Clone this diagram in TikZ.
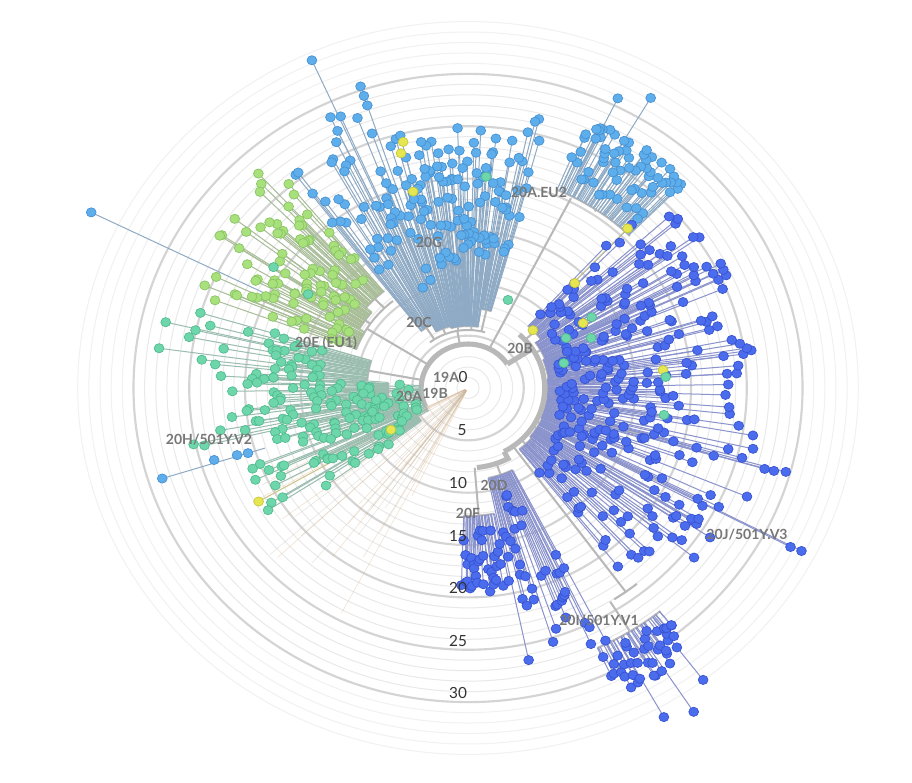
\documentclass[tikz,border=0pt]{standalone}
\usepackage{fontspec}
\setmainfont{Lato}
\definecolor{clbfill}{HTML}{5EAEEB}
\definecolor{clbedge}{HTML}{4690D2}
\definecolor{clbline}{HTML}{8FAAC4}
\definecolor{cdbfill}{HTML}{4B6CEC}
\definecolor{cdbedge}{HTML}{3652D2}
\definecolor{cdbline}{HTML}{8A93CC}
\definecolor{cgrfill}{HTML}{A8E07C}
\definecolor{cgredge}{HTML}{88C462}
\definecolor{cgrline}{HTML}{A8BD98}
\definecolor{cmtfill}{HTML}{6ED6AB}
\definecolor{cmtedge}{HTML}{50BA8D}
\definecolor{cmtline}{HTML}{9BBDB0}
\definecolor{cyefill}{HTML}{E6E650}
\definecolor{cyeedge}{HTML}{C6C63A}
\definecolor{cyeline}{HTML}{C8C488}
\definecolor{cgbr}{HTML}{B8B8B8}
\definecolor{cgridthin}{HTML}{E9E9E9}
\definecolor{cgridfaint}{HTML}{F1F1F1}
\definecolor{cgridthick}{HTML}{D4D4D4}
\definecolor{clabgrey}{HTML}{777777}
\definecolor{caxis}{HTML}{333333}
\definecolor{corl}{HTML}{D9A878}
\definecolor{cogr}{HTML}{C8C0B0}
\tikzset{
  tiplb/.style={fill=clbfill, draw=clbedge, line width=0.5pt},
  tipdb/.style={fill=cdbfill, draw=cdbedge, line width=0.5pt},
  tipgr/.style={fill=cgrfill, draw=cgredge, line width=0.5pt},
  tipmt/.style={fill=cmtfill, draw=cmtedge, line width=0.5pt},
  tipye/.style={fill=cyefill, draw=cyeedge, line width=0.5pt},
  lnlb/.style={draw=clbline, line width=0.75pt},
  lndb/.style={draw=cdbline, line width=0.75pt},
  lngr/.style={draw=cgrline, line width=0.75pt},
  lnmt/.style={draw=cmtline, line width=0.75pt},
  lnye/.style={draw=cyeline, line width=0.75pt},
  gbranch/.style={draw=cgbr, line width=1.5pt},
  groot/.style={draw=cgbr, line width=3.8pt},
  cladelab/.style={text=clabgrey, font=\fontsize{10.5}{12}\selectfont\bfseries, inner sep=0pt},
  axislab/.style={text=caxis, font=\fontsize{11.5}{13}\selectfont, inner sep=0pt},
}
\newif\ifdotpass
% #1 amin #2 amax #3 rparent #4 rbase #5 rmin #6 rmax #7 n #8 key #9 exponent
\newcommand{\clade}[9]{%
  \pgfmathsetmacro{\am}{(#1+#2)/2}%
  \ifdotpass\else
    \draw[gbranch] (\am:#3) -- (\am:#4);
    \draw[gbranch] (#1:#4) arc[start angle=#1, end angle=#2, radius=#4];
  \fi
  \foreach \i in {1,...,#7}{%
    \pgfmathsetmacro{\aa}{#1+(#2-#1)*(\i-0.5)/#7+0.4*rand}%
    \pgfmathsetmacro{\rr}{#5+(#6-#5)*(rnd^#9)}%
    \ifdotpass
      \path[tip#8] (\aa:\rr) circle[radius=4.6];
    \else
      \draw[ln#8] (\aa:#4) -- (\aa:\rr);
    \fi
  }%
}
\newcommand{\tipline}[4]{%
  \ifdotpass \path[tip#4] (#1:#3) circle[radius=4.6];
  \else \draw[ln#4] (#1:#2) -- (#1:#3); \fi}
\newcommand{\dotat}[3]{%
  \ifdotpass \path[tip#3] (#1:#2) circle[radius=4.6]; \fi}
\newcommand{\gline}[3]{\ifdotpass\else\draw[gbranch] (#1:#2) -- (#1:#3);\fi}
\newcommand{\garc}[3]{\ifdotpass\else\draw[gbranch] (#1:#3) arc[start angle=#1, end angle=#2, radius=#3];\fi}

\newcommand{\alltree}{%
  % internal structure
  \gline{100}{44}{58}\garc{74}{128}{58}
  \gline{63}{44}{213}
  \gline{148}{44}{112}\garc{129}{160}{112}
  \gline{-54}{72}{252}\garc{-57}{-51}{252}\gline{-58}{252}{285}
  \gline{-16}{72}{180}\gline{-27.6}{72}{200}
  % top light blue (20C / 20G)
  \clade{118}{128}{58}{72}{140}{270}{18}{lb}{1}
  \clade{105}{118}{58}{64}{100}{300}{35}{lb}{1.2}
  \clade{93}{105}{58}{62}{115}{265}{45}{lb}{1}
  \clade{81}{93}{58}{62}{125}{262}{45}{lb}{1}
  \clade{74}{81}{58}{80}{140}{280}{22}{lb}{1}
  \tipline{114.1}{120}{359}{lb}
  \tipline{108.5}{120}{318}{lb}
  \dotat{108.5}{308}{lb}\dotat{108.5}{298}{lb}
  \tipline{115.5}{120}{300}{lb}
  \tipline{126.5}{80}{268}{lb}
  % 20A.EU2
  \clade{45}{67}{213}{215}{228}{292}{65}{lb}{1}
  \tipline{64.1}{240}{322}{lb}
  \tipline{59.4}{240}{337}{lb}
  % green 20E (EU1)
  \clade{129}{140}{112}{125}{145}{292}{33}{gr}{1.2}
  \clade{140}{150}{112}{118}{135}{280}{33}{gr}{1.3}
  \clade{150}{160}{112}{112}{125}{272}{28}{gr}{1.3}
  \tipline{153.6}{200}{395}{lb}
  % mint 20A / 20H
  \clade{163}{176}{44}{95}{140}{322}{35}{mt}{1.8}
  \clade{176}{188}{44}{75}{90}{250}{40}{mt}{1.3}
  \clade{188}{200}{44}{65}{85}{280}{40}{mt}{1.5}
  \clade{200}{217}{44}{55}{65}{230}{40}{mt}{1.2}
  \clade{176}{212}{44}{44}{46}{100}{22}{mt}{1}
  \tipline{197.5}{200}{301}{lb}
  \dotat{197.5}{216.6}{lb}\dotat{197.2}{227}{lb}\dotat{196.8}{249}{lb}
  % dark blue 20B / 20J
  \clade{36}{48}{72}{84}{95}{262}{30}{db}{1.1}
  \clade{22}{36}{72}{78}{88}{270}{45}{db}{1.2}
  \clade{7}{22}{72}{76}{85}{272}{50}{db}{1.2}
  \clade{-8}{7}{72}{75}{85}{262}{50}{db}{1.2}
  \clade{-24}{-8}{72}{75}{90}{285}{50}{db}{1.2}
  \clade{-40}{-24}{72}{76}{95}{280}{45}{db}{1.1}
  \clade{-52}{-40}{72}{78}{105}{240}{25}{db}{1}
  \tipline{-16.1}{180}{299}{db}
  \tipline{-15.7}{180}{310}{db}
  \tipline{-16.2}{180}{290}{db}
  \tipline{-27.7}{200}{342}{db}
  \tipline{-27.5}{200}{353}{db}
  % 20I/501Y.V1
  \clade{-65}{-51}{285}{287}{292}{340}{40}{db}{1}
  \tipline{-52.9}{290}{366}{db}
  \tipline{-60.8}{300}{377}{db}
  \tipline{-56.8}{300}{387}{db}
  % 20D and 20F
  \clade{-78}{-63}{80}{92}{110}{290}{40}{db}{1}
  \clade{-92}{-79}{80}{128}{140}{205}{35}{db}{1}
  % yellow
  \dotat{103.9}{253.5}{ye}\dotat{105}{243}{ye}\dotat{104.7}{203}{ye}
  \tipline{46.8}{140}{219}{ye}
  \dotat{46.3}{145}{ye}\dotat{31}{126}{ye}\dotat{43.5}{84}{ye}\dotat{5.6}{184}{ye}
  \tipline{210}{150}{227}{ye}
  \dotat{210}{83.5}{ye}
  % scattered mint
  \dotat{66.9}{95.7}{mt}\dotat{28.5}{104.7}{mt}\dotat{15.5}{93.4}{mt}
  \dotat{23.4}{126}{mt}\dotat{3.4}{186}{mt}\dotat{-8.3}{186}{mt}
  \dotat{31.4}{136}{mt}\dotat{85.4}{212}{mt}
  \dotat{146.5}{219}{mt}\dotat{148}{177}{mt}
}

\begin{document}
\begin{tikzpicture}[x=0.75pt,y=0.75pt]
\useasboundingbox (0,0) rectangle (912,782);
\fill[white] (0,0) rectangle (912,782);
\begin{scope}[shift={(468,394)}, xscale=1.065]
  % grid
  \foreach \k in {1,...,35}{%
    \pgfmathsetmacro{\R}{\k*10.47}%
    \ifnum\k>30
      \draw[cgridfaint, line width=0.75pt] (0,0) circle[radius=\R];
    \else
      \draw[cgridthin, line width=0.75pt] (0,0) circle[radius=\R];
    \fi
  }
  \foreach \k in {5,10,...,30}{%
    \pgfmathsetmacro{\R}{\k*10.47}%
    \draw[cgridthick, line width=1.6pt] (0,0) circle[radius=\R];
  }
  % faint 19A/19B lines
  \pgfmathsetseed{77}
  \foreach \i in {1,...,34}{%
    \pgfmathsetmacro{\aa}{206+40*rnd}%
    \pgfmathsetmacro{\rr}{90+165*rnd}%
    \ifodd\i
      \draw[corl, opacity=0.4, line width=0.35pt] (\aa:3) -- (\aa:\rr);
    \else
      \draw[cogr, opacity=0.45, line width=0.35pt] (\aa:3) -- (\aa:\rr);
    \fi
  }
  % root
  \draw[groot] (33:44) arc[start angle=33, end angle=205, radius=44];
  \draw[groot] (33:44) -- (33:72);
  \draw[groot] (48:72) arc[start angle=48, end angle=-62, radius=72];
  \draw[groot] (-62:72) -- (-62:80) arc[start angle=-62, end angle=-84, radius=80];
  % tree: lines then dots
  \dotpassfalse
  \pgfmathsetseed{1234}
  \alltree
  \dotpasstrue
  \pgfmathsetseed{1234}
  \alltree
\end{scope}
% clade labels
\node[cladelab] (l1) at (539,590) {20A.EU2};
\node[cladelab] (l2) at (429,540) {20G};
\node[cladelab] (l3) at (419,460) {20C};
\node[cladelab] (l4) at (326,439) {20E (EU1)};
\node[cladelab] (l5) at (520,434) {20B};
\node[cladelab] (l6) at (446,405) {19A};
\node[cladelab] (l7) at (435,389) {19B};
\node[cladelab] (l8) at (409,386) {20A};
\node[cladelab] (l9) at (209,342) {20H/501Y.V2};
\node[cladelab] (l10) at (494,297) {20D};
\node[cladelab] (l11) at (468,269) {20F};
\node[cladelab] (l12) at (599,161) {20I/501Y.V1};
\node[cladelab] (l13) at (747,247) {20J/501Y.V3};
% axis labels
\node[axislab] (a0) at (463,405) {0};
\node[axislab] (a5) at (462,352) {5};
\node[axislab] (a10) at (458,299) {10};
\node[axislab] (a15) at (458,246) {15};
\node[axislab] (a20) at (458,194) {20};
\node[axislab] (a25) at (458,141) {25};
\node[axislab] (a30) at (458,89) {30};
\end{tikzpicture}
\end{document}
